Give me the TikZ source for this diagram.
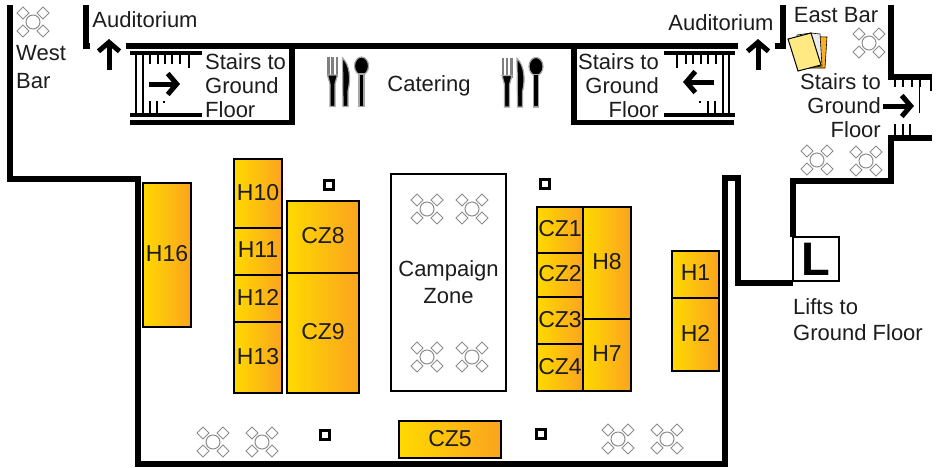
\documentclass[tikz,border=0pt]{standalone}
\usepackage{fontspec}
\usepackage{xcolor}
\usetikzlibrary{arrows.meta}
\setmainfont{Liberation Sans}

\definecolor{boothyellow}{HTML}{FFD900}
\definecolor{boothorange}{HTML}{FBA41F}
\definecolor{tablegray}{HTML}{8C8C8C}
\definecolor{textblack}{HTML}{1C1C1C}
\definecolor{sheetyellow}{HTML}{FFE983}
\definecolor{sheetorange}{HTML}{FBAE1F}
\definecolor{sheetwhite}{HTML}{ECECEC}

\tikzset{
  wall/.style={line width=5.5pt},
  stairbar/.style={line width=4.5pt},
  stairtick/.style={line width=2.5pt},
  walkarrow/.style={line width=5pt, -{Straight Barb[length=9pt,width=21pt]}},
  label/.style={text=textblack, inner sep=0pt, font=\fontsize{22}{24}\selectfont},
  booth/.style={draw=black, line width=2.5pt, inner sep=0pt, text=textblack, text depth=3pt,
    left color=boothyellow, right color=boothorange, font=\fontsize{23}{24}\selectfont},
  pillar/.style={draw=black, fill=white, line width=2.5pt, minimum size=9pt, inner sep=0pt},
  blurred/.style={fill=black, draw=black!35, line width=1.2pt},
  place/.pic={
    \draw[tablegray, line width=1pt, fill=white] (0,0) circle (7);
    \foreach \sx/\sy in {-1/-1, 1/-1, -1/1, 1/1}
      \draw[tablegray, line width=1pt, fill=white]
        (\sx*10,\sy*9-6) -- (\sx*10+6,\sy*9) -- (\sx*10,\sy*9+6) -- (\sx*10-6,\sy*9) -- cycle;
  },
  cutlery/.pic={
    \fill[black!50] (0,0) rectangle (2.5,20);
    \fill[black!50] (4.2,0) rectangle (6.8,20);
    \fill[black!50] (8.5,0) rectangle (11,20);
    \filldraw[blurred] (0.5,18) -- (10.5,18) -- (8,27) -- (8,49.5) -- (3,49.5) -- (3,27) -- cycle;
    \filldraw[blurred] (15.5,1) .. controls (23,8) and (24,22) .. (21,34) -- (21,49.5) -- (16,49.5) -- cycle;
    \filldraw[blurred] (34.5,9) ellipse (7 and 9);
    \filldraw[blurred] (32,17) -- (37,17) -- (37,49.5) -- (32,49.5) -- cycle;
  }
}

\begin{document}
\begin{tikzpicture}[x=1pt, y=-1pt]
\useasboundingbox (0,0) rectangle (939,467);

\draw[wall] (10,5) -- (10,179) -- (138,179) -- (138,464) -- (725,464) -- (725,178)
  -- (738,178) -- (738,283) -- (793,283);
\draw[wall] (793,237) -- (793,181) -- (891,181) -- (891,138) -- (932,138);
\draw[wall] (891,5) -- (891,77) -- (932,77);
\draw[wall] (86,5) -- (86,46) -- (90,46);
\draw[wall] (783,5) -- (783,46) -- (775,46);
\draw[wall] (126,46) -- (738,46);
\draw[wall] (292,46) -- (292,122.5) -- (130,122.5);
\draw[wall] (574,46) -- (574,122.5) -- (734,122.5);

\draw[stairbar] (130,53) -- (202,53);
\draw[stairbar] (130,115) -- (202,115);
\draw[stairtick] (136,53) -- (136,115);
\draw[stairtick] (143,53) -- (143,115);
\foreach \tx in {150,158,165,172,180}
  \draw[stairtick] (\tx,53) -- (\tx,64);
\draw[stairtick] (189,53) -- (189,68);
\draw[stairtick] (150,101) -- (150,115);
\draw[stairtick] (157,101) -- (157,115);
\draw[stairtick] (164,101) -- (164,103);

\draw[stairbar] (664,53) -- (735,53);
\draw[stairbar] (664,115) -- (735,115);
\draw[stairtick] (723,53) -- (723,115);
\draw[stairtick] (729,53) -- (729,115);
\foreach \tx in {686,693,701,708,716}
  \draw[stairtick] (\tx,53) -- (\tx,64);
\draw[stairtick] (677,53) -- (677,68);
\draw[stairtick] (708,101) -- (708,115);
\draw[stairtick] (715,101) -- (715,115);
\draw[stairtick] (700,101) -- (700,103);

\foreach \tx in {895,903,912,920}
  \draw[stairtick] (\tx,77) -- (\tx,87);
\draw[stairtick] (931,77) -- (931,91);
\draw[line width=1pt] (919,80) -- (919,113);
\foreach \tx in {895,903,910}
  \draw[stairtick] (\tx,124) -- (\tx,138);

\draw[walkarrow] (149,84) -- (180,84);
\draw[walkarrow] (714,82) -- (683,82);
\draw[walkarrow] (883,106) -- (914,106);
\draw[walkarrow] (109,70) -- (109,39);
\draw[walkarrow] (758,70) -- (758,39);

\foreach \nm/\tx/\ty in {westtable/33/22, easttable/869/43, stairtableA/817/160, stairtableB/866/161,
    zonetableA/427/209, zonetableB/472/209, zonetableC/427/357, zonetableD/472/357,
    halltableA/213/442, halltableB/262/442, halltableC/618/439, halltableD/667/439}
  \pic (\nm) at (\tx,\ty) {place};

\pic (cutleryA) at (327,57) {cutlery};
\pic (cutleryB) at (501.5,57.5) {cutlery};

\foreach \nm/\tx/\ty in {pillarA/329/185, pillarB/325/435, pillarC/545/184, pillarD/541/434}
  \node[pillar] (\nm) at (\tx,\ty) {};

\foreach \nm/\xa/\ya/\xb/\yb in {H16/143/183/191/327, H10/234/159/282/228, H11/234/228/282/275,
    H12/234/275/282/322, H13/234/322/282/393, CZ8/287/201/359/273, CZ9/287/273/359/393,
    CZ1/537/207/583/253, CZ2/537/253/583/297, CZ3/537/297/583/344, CZ4/537/344/583/391,
    H8/583/207/631/319, H7/583/319/631/391, H1/672/251/719/298, H2/672/298/719/371,
    CZ5/399/421/501/458}
  \node[booth, minimum width={\xb-\xa}, minimum height={\yb-\ya}] (\nm)
    at ({(\xa+\xb)/2},{(\ya+\yb)/2}) {\nm};

\node[draw=black, line width=2pt, inner sep=0pt, minimum width=115pt, minimum height=217pt,
  label, align=center] (zone) at (448.5,282.5) {Campaign\\[3pt]Zone};

\fill[sheetorange, draw=black, line width=0.6pt] (799,36) -- (827,37) -- (825,68) -- (798,68) -- cycle;
\fill[sheetwhite, draw=black, line width=0.6pt] (797,35) -- (811,33) -- (820,34) -- (822,66) -- (800,69) -- cycle;
\fill[sheetyellow, draw=black, line width=1pt] (788,39) -- (811,33) -- (821,65) -- (798,71) -- cycle;

\node[draw=black, line width=2pt, inner sep=0pt, minimum width=46pt, minimum height=44pt,
  font=\fontsize{47}{47}\selectfont\bfseries] (lift) at (816,259) {L};

\node[label] (auditoriumA) at (145,20) {Auditorium};
\node[label] (auditoriumB) at (721,23) {Auditorium};
\node[label] (eastbar) at (836,15) {East Bar};
\node[label, anchor=west, align=left] (westbar) at (16,67) {West\\[4pt]Bar};
\node[label] (catering) at (429,85.5) {Catering};
\node[label, anchor=west, align=left] (stairsA) at (205,86) {Stairs to\\Ground\\Floor};
\node[label, anchor=east, align=right] (stairsB) at (659,86) {Stairs to\\Ground\\Floor};
\node[label, anchor=east, align=right] (stairsC) at (881,106) {Stairs to\\Ground\\Floor};
\node[label, anchor=west, align=left] (lifts) at (793,320) {Lifts to\\[2pt]Ground Floor};
\end{tikzpicture}
\end{document}
